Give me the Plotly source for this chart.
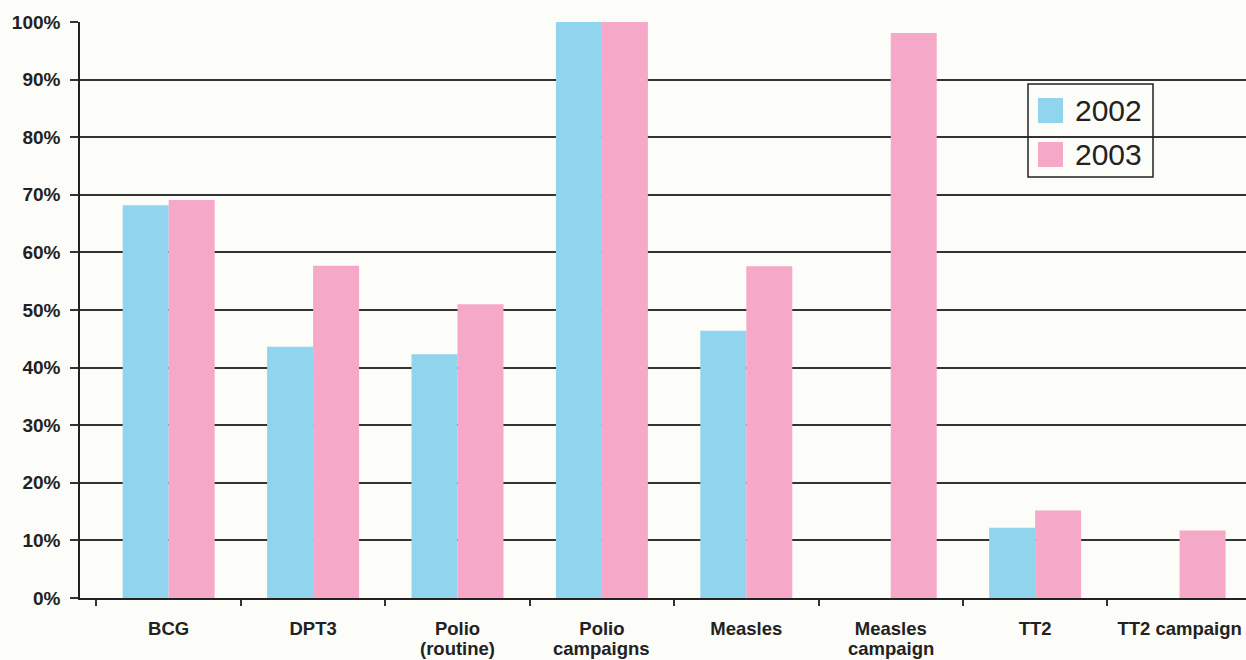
import plotly.graph_objects as go

# Immunisation coverage by antigen, 2002 vs 2003
categories = ["BCG", "DPT3", "Polio (routine)", "Polio campaigns", "Measles",
              "Measles campaign", "TT2", "TT2 campaign"]
label_line1 = ["BCG", "DPT3", "Polio", "Polio", "Measles", "Measles", "TT2", "TT2 campaign"]
label_line2 = ["", "", "(routine)", "campaigns", "", "campaign", "", ""]

years = ["2002", "2003"]
coverage_2002 = [68.2, 43.6, 42.3, 100, 46.4, None, 12.2, None]
coverage_2003 = [69.1, 57.7, 51.0, 100, 57.6, 98.1, 15.2, 11.7]
year_colors = ["#91d4ed", "#f6a8c8"]

FONT = "Liberation Sans, Arial, Helvetica, sans-serif"
BG = "#fcfcf9"
LABEL_SIZE = 18.5

fig = go.Figure()
for name, vals, col in zip(years, [coverage_2002, coverage_2003], year_colors):
    fig.add_trace(go.Bar(x=categories, y=vals, name=name, marker_color=col,
                         marker_line_width=0, showlegend=False))

# second line of two-line category labels, kept tight under the first line
annotations = []
for cat, l2 in zip(categories, label_line2):
    if l2:
        annotations.append(dict(x=cat, xref="x", y=0, yref="paper", yanchor="top",
                                text=l2, showarrow=False, yshift=-38,
                                font=dict(family=FONT, size=LABEL_SIZE, color="#222222",
                                          weight="bold")))

# boxed legend with large square swatches
W, H = 1246 - 80, 576
def px_x(p):
    return (p - 80) / W
def px_y(p):
    return (598 - p) / H

shapes = [dict(type="rect", xref="paper", yref="paper",
               x0=px_x(1028), x1=px_x(1153), y0=px_y(177), y1=px_y(84),
               line=dict(color="#222222", width=1.5), fillcolor="rgba(0,0,0,0)")]
for i, (name, col) in enumerate(zip(years, year_colors)):
    top = 98 + 44 * i
    shapes.append(dict(type="rect", xref="paper", yref="paper",
                       x0=px_x(1038), x1=px_x(1063), y0=px_y(top + 25), y1=px_y(top),
                       line=dict(width=0), fillcolor=col))
    annotations.append(dict(x=px_x(1073), xref="paper", y=px_y(top + 12.5), yref="paper",
                            xanchor="left", yanchor="middle", text=name, showarrow=False,
                            font=dict(family=FONT, size=30, color="#222222")))

fig.update_layout(
    width=1246, height=660,
    margin=dict(l=80, r=0, t=22, b=62),
    paper_bgcolor=BG, plot_bgcolor=BG,
    barmode="group", bargap=0.363, bargroupgap=0,
    annotations=annotations, shapes=shapes,
    font=dict(family=FONT, color="#222222"),
    xaxis=dict(type="category", range=[-0.614, 7.46],
               tickvals=categories, ticktext=label_line1, tickson="boundaries",
               ticks="outside", ticklen=6, tickcolor="#333333", tickwidth=1.5,
               showgrid=False, showline=True, linecolor="#222222", linewidth=1.5,
               ticklabelstandoff=13,
               tickfont=dict(family=FONT, size=LABEL_SIZE, color="#222222", weight="bold")),
    yaxis=dict(range=[0, 100], dtick=10, ticksuffix="%",
               ticks="outside", ticklen=8, tickcolor="#333333", tickwidth=1.5,
               showgrid=True, gridcolor="#333333", gridwidth=1.5,
               showline=True, linecolor="#222222", linewidth=1.5, zeroline=False,
               ticklabelstandoff=6,
               tickfont=dict(family=FONT, size=19, color="#222222", weight="bold")),
)

fig.write_html("out.html")
